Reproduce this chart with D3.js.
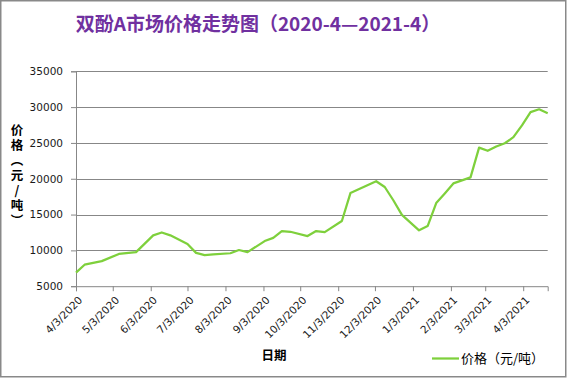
<!DOCTYPE html>
<html>
<head>
<meta charset="utf-8">
<script src="https://cdn.jsdelivr.net/npm/d3@7"></script>
<style>
  body { margin: 0; background: #fff; }
  svg { display: block; }
</style>
</head>
<body>
<svg id="chart" width="567" height="378"></svg>
<script>
// weekly price data (Fridays)
const dates = [
  '2020-04-03', '2020-04-10', '2020-04-24', '2020-05-08', '2020-05-22',
  '2020-06-05', '2020-06-12', '2020-06-19', '2020-07-03', '2020-07-10',
  '2020-07-17', '2020-07-24', '2020-08-07', '2020-08-14', '2020-08-21',
  '2020-09-04', '2020-09-11', '2020-09-18', '2020-09-25', '2020-10-09',
  '2020-10-16', '2020-10-23', '2020-11-06', '2020-11-13', '2020-12-04',
  '2020-12-11', '2020-12-18', '2020-12-25', '2021-01-08', '2021-01-15',
  '2021-01-22', '2021-01-29', '2021-02-05', '2021-02-19', '2021-02-26',
  '2021-03-05', '2021-03-12', '2021-03-19', '2021-03-26', '2021-04-02',
  '2021-04-09', '2021-04-16', '2021-04-23'
]
const prices = [
  6900, 8000, 8500, 9500, 9750,
  12100, 12500, 12100, 10900, 9650,
  9350, 9450, 9600, 10050, 9750,
  11300, 11750, 12700, 12600, 12000,
  12700, 12550, 14100, 18000, 19650,
  18850, 17000, 14950, 12800, 13400,
  16600, 17950, 19350, 20200, 24350,
  23900, 24500, 24950, 25800, 27450,
  29300, 29700, 29150
]
const yTicks = [5000, 10000, 15000, 20000, 25000, 30000, 35000]
const xTickDates = [
  '2020-04-03', '2020-05-03', '2020-06-03', '2020-07-03', '2020-08-03',
  '2020-09-03', '2020-10-03', '2020-11-03', '2020-12-03', '2021-01-03',
  '2021-02-03', '2021-03-03', '2021-04-03'
]
const title = '双酚A市场价格走势图（2020-4—2021-4）'
const yTitle = '价格（元/吨）'
const xTitle = '日期'
const seriesName = '价格（元/吨）'

const parse = d3.utcParse('%Y-%m-%d')
const data = dates.map((d, i) => ({ date: parse(d), price: prices[i] }))

const svg = d3.select('#chart')
const plotLeft = 76
const plotRight = 547.7
const plotTop = 71.3
const plotBottom = 286.2

const x = d3.scaleUtc()
  .domain([parse(dates[0]), parse(dates[dates.length - 1])])
  .range([plotLeft, plotRight])
const y = d3.scaleLinear()
  .domain([5000, 35000])
  .range([plotBottom, plotTop])

// outer border
svg.append('rect')
  .attr('x', 0.75).attr('y', 0.75)
  .attr('width', 565).attr('height', 376)
  .attr('fill', '#fff')
  .attr('stroke', '#898989')
  .attr('stroke-width', 1.5)

// gridlines
svg.append('g')
  .selectAll('line')
  .data(yTicks.slice(1))
  .join('line')
  .attr('x1', plotLeft).attr('x2', plotRight)
  .attr('y1', d => Math.round(y(d)) + 0.5)
  .attr('y2', d => Math.round(y(d)) + 0.5)
  .attr('stroke', '#878787')
  .attr('stroke-width', 1)

// y axis
const yAxis = svg.append('g')
  .attr('transform', `translate(${plotLeft},0)`)
  .call(d3.axisLeft(y).tickValues(yTicks).tickSize(5).tickPadding(8).tickFormat(d3.format('d')))
yAxis.select('.domain').attr('stroke', '#878787')
yAxis.selectAll('.tick line').attr('stroke', '#878787')
yAxis.selectAll('text')
  .style('font-family', 'DejaVu Sans, sans-serif')
  .style('font-size', '10.5px')
  .attr('fill', '#1a1a1a')

// x axis
const xAxis = svg.append('g')
  .attr('transform', `translate(0,${plotBottom})`)
  .call(d3.axisBottom(x)
    .tickValues(xTickDates.map(parse))
    .tickSize(5)
    .tickFormat(d3.utcFormat('%-m/%-d/%Y')))
xAxis.select('.domain').attr('stroke', '#878787')
xAxis.selectAll('.tick line').attr('stroke', '#878787')
xAxis.selectAll('text')
  .style('font-family', 'DejaVu Sans, sans-serif')
  .style('font-size', '10.5px')
  .attr('fill', '#1a1a1a')
  .attr('text-anchor', 'end')
  .attr('dy', '0.35em')
  .attr('transform', 'translate(4,12) rotate(-45)')
  .attr('y', 0)
  .attr('x', 0)

// price line
svg.append('path')
  .datum(data)
  .attr('fill', 'none')
  .attr('stroke', '#7ED03C')
  .attr('stroke-width', 2.25)
  .attr('stroke-linejoin', 'round')
  .attr('d', d3.line().x(d => x(d.date)).y(d => y(d.price)))

// title
svg.append('text')
  .attr('x', 258)
  .attr('y', 31)
  .attr('text-anchor', 'middle')
  .attr('fill', '#7030A0')
  .style('font-family', 'Noto Sans CJK SC, sans-serif')
  .style('font-size', '19px')
  .style('font-weight', 'bold')
  .text(title)

// y axis title, stacked vertically
svg.append('text')
  .attr('x', 17)
  .attr('y', 124)
  .attr('fill', '#000')
  .style('font-family', 'Noto Sans CJK SC, sans-serif')
  .style('font-size', '12.5px')
  .style('font-weight', 'bold')
  .style('writing-mode', 'vertical-rl')
  .style('text-orientation', 'upright')
  .style('letter-spacing', '2.5px')
  .text(yTitle)

// x axis title
svg.append('text')
  .attr('x', 274)
  .attr('y', 360)
  .attr('text-anchor', 'middle')
  .attr('fill', '#000')
  .style('font-family', 'Noto Sans CJK SC, sans-serif')
  .style('font-size', '12.5px')
  .style('font-weight', 'bold')
  .text(xTitle)

// legend
const legend = svg.append('g').attr('transform', 'translate(432,358.5)')
legend.append('line')
  .attr('x1', 0).attr('x2', 27)
  .attr('stroke', '#7ED03C')
  .attr('stroke-width', 2.25)
legend.append('text')
  .attr('x', 29)
  .attr('y', 4.5)
  .attr('fill', '#000')
  .style('font-family', 'Noto Sans CJK SC, sans-serif')
  .style('font-size', '13px')
  .text(seriesName)
</script>
</body>
</html>
